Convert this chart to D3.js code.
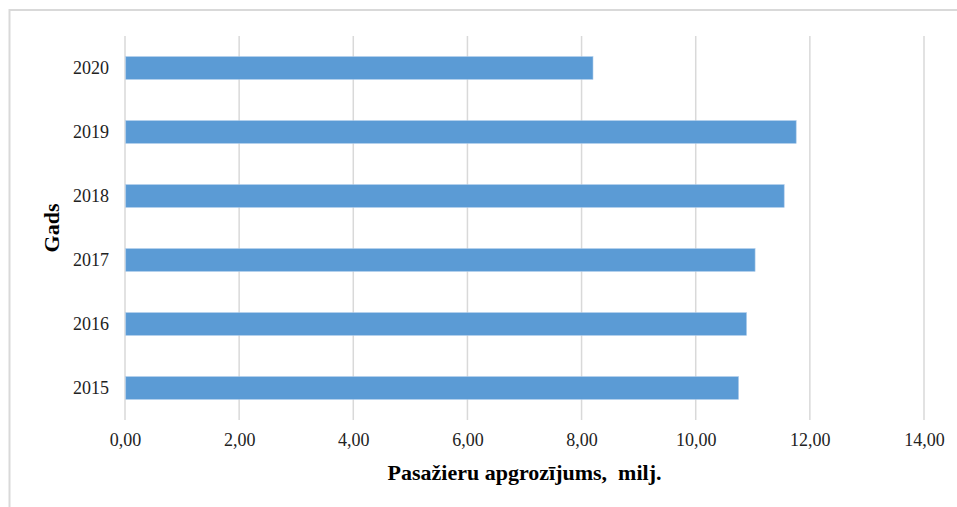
<!DOCTYPE html>
<html>
<head>
<meta charset="utf-8">
<script src="https://cdn.jsdelivr.net/npm/d3@7"></script>
<style>
  html, body { margin: 0; padding: 0; background: #fff; }
  svg { display: block; }
</style>
</head>
<body>
<svg id="chart" width="957" height="507"></svg>
<script>
// Passenger turnover by year, millions
const years = ["2015", "2016", "2017", "2018", "2019", "2020"];
const passengers = [10.75, 10.89, 11.04, 11.55, 11.76, 8.20];
const xTicks = [0, 2, 4, 6, 8, 10, 12, 14];
const xTitle = "Pasažieru apgrozījums,  milj.";
const yTitle = "Gads";

const svg = d3.select("#chart");
const W = 957, H = 507;
const margin = { top: 36, right: 33, bottom: 87, left: 125 };
const innerW = W - margin.left - margin.right;
const innerH = H - margin.top - margin.bottom;

// chart frame (right and bottom edges fall outside the canvas)
svg.append("rect")
  .attr("x", 9.5).attr("y", 10)
  .attr("width", W).attr("height", H)
  .attr("fill", "none")
  .attr("stroke", "#d9d9d9")
  .attr("stroke-width", 2);

const g = svg.append("g").attr("transform", `translate(${margin.left},${margin.top})`);

const x = d3.scaleLinear().domain([0, 14]).range([0, innerW]);
const y = d3.scaleBand()
  .domain(years.slice().reverse())
  .range([0, innerH])
  .paddingInner(0.645)
  .paddingOuter(0.3225);

// vertical gridlines
g.append("g")
  .selectAll("line")
  .data(xTicks)
  .join("line")
  .attr("x1", d => x(d)).attr("x2", d => x(d))
  .attr("y1", 0).attr("y2", innerH)
  .attr("stroke", "#d9d9d9")
  .attr("stroke-width", 1.5);

// bars
g.append("g")
  .selectAll("rect")
  .data(years.map((yr, i) => ({ yr, v: passengers[i] })))
  .join("rect")
  .attr("x", x(0) + 0.75)
  .attr("y", d => y(d.yr))
  .attr("width", d => x(d.v) - x(0) - 0.75)
  .attr("height", y.bandwidth())
  .attr("fill", "#5b9bd5")
  .attr("stroke", "#a9c9ea")
  .attr("stroke-width", 0.6);

// x axis labels
const fmt = d => d3.format(".2f")(d).replace(".", ",");
const xAxis = g.append("g")
  .attr("transform", `translate(0,${innerH})`)
  .call(d3.axisBottom(x).tickValues(xTicks).tickFormat(fmt).tickSize(0).tickPadding(13));
xAxis.select(".domain").remove();
xAxis.selectAll("text")
  .attr("font-family", "'Liberation Serif', 'Times New Roman', serif")
  .attr("font-size", 18)
  .attr("fill", "#222");

// y axis labels
const yAxis = g.append("g")
  .call(d3.axisLeft(y).tickSize(0).tickPadding(16));
yAxis.select(".domain").remove();
yAxis.selectAll("text")
  .attr("font-family", "'Liberation Serif', 'Times New Roman', serif")
  .attr("font-size", 18)
  .attr("fill", "#222");

// axis titles
svg.append("text")
  .attr("x", margin.left + innerW / 2)
  .attr("y", 480)
  .attr("text-anchor", "middle")
  .attr("font-family", "'Liberation Serif', 'Times New Roman', serif")
  .attr("font-weight", "bold")
  .attr("font-size", 22)
  .attr("fill", "#000")
  .attr("xml:space", "preserve")
  .text(xTitle);

svg.append("text")
  .attr("transform", `translate(59,${margin.top + innerH / 2}) rotate(-90)`)
  .attr("text-anchor", "middle")
  .attr("font-family", "'Liberation Serif', 'Times New Roman', serif")
  .attr("font-weight", "bold")
  .attr("font-size", 22)
  .attr("fill", "#000")
  .text(yTitle);
</script>
</body>
</html>
